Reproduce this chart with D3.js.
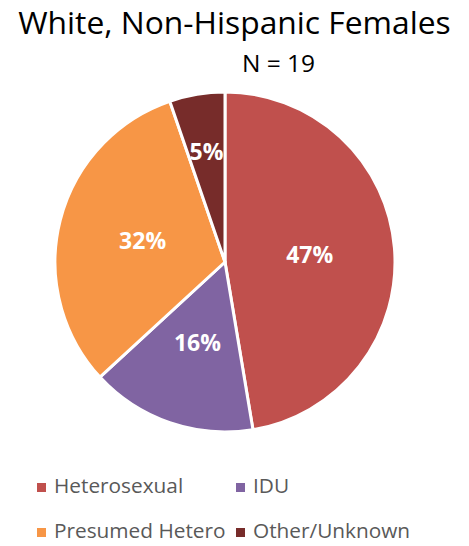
<!DOCTYPE html>
<html><head><meta charset="utf-8">
<script src="https://cdn.jsdelivr.net/npm/d3@7"></script>
<style>body{margin:0;background:#fff;} svg{display:block;}</style>
</head><body>
<svg id="c" width="469" height="546"></svg>
<script>
const categories = ["Heterosexual", "IDU", "Presumed Hetero", "Other/Unknown"];
const counts = [9, 3, 6, 1];
const percentLabels = ["47%", "16%", "32%", "5%"];
const colors = ["#C0504D", "#8064A2", "#F79646", "#772C2A"];
const titleText = "White, Non-Hispanic Females";
const subtitleText = "N = 19";

const svg = d3.select("#c");
const font = "'Open Sans', 'Noto Sans', sans-serif";
const cx = 225, cy = 262, R = 170;

svg.append("text").attr("x", 234.5).attr("y", 34).attr("text-anchor", "middle")
  .attr("font-family", font).attr("font-size", 31.8).attr("fill", "#000").text(titleText);
svg.append("text").attr("x", 278.5).attr("y", 72).attr("text-anchor", "middle")
  .attr("font-family", font).attr("font-size", 24.5).attr("fill", "#000").text(subtitleText);

const pie = d3.pie().sort(null).value(d => d)(counts);
const arc = d3.arc().innerRadius(0).outerRadius(R);
const g = svg.append("g").attr("transform", `translate(${cx},${cy})`);
g.selectAll("path").data(pie).join("path")
  .attr("d", arc).attr("fill", (d, i) => colors[i])
  .attr("stroke", "#fff").attr("stroke-width", 3).attr("stroke-linejoin", "round");

g.selectAll("text.lbl").data(pie).join("text").attr("class", "lbl")
  .attr("transform", d => {
    const span = d.endAngle - d.startAngle;
    const lr = span < 0.4 ? R * 0.66 : R * 0.5;
    const c = d3.arc().innerRadius(lr).outerRadius(lr).centroid(d);
    return `translate(${c[0]},${c[1]})`;
  })
  .attr("text-anchor", "middle").attr("dy", "0.36em")
  .attr("font-family", font).attr("font-weight", "bold").attr("font-size", 23)
  .attr("fill", "#fff").text((d, i) => percentLabels[i]);

const legPos = [[37, 493], [236, 493], [37, 538], [236, 538]];
const leg = svg.selectAll("g.leg").data(categories).join("g").attr("class", "leg")
  .attr("transform", (d, i) => `translate(${legPos[i][0]},${legPos[i][1]})`);
leg.append("rect").attr("x", 0).attr("y", -10).attr("width", 9).attr("height", 9)
  .attr("fill", (d, i) => colors[i]);
leg.append("text").attr("x", 17).attr("y", 0)
  .attr("font-family", font).attr("font-size", 20.8).attr("fill", "#595959").text(d => d);
</script>
</body></html>
